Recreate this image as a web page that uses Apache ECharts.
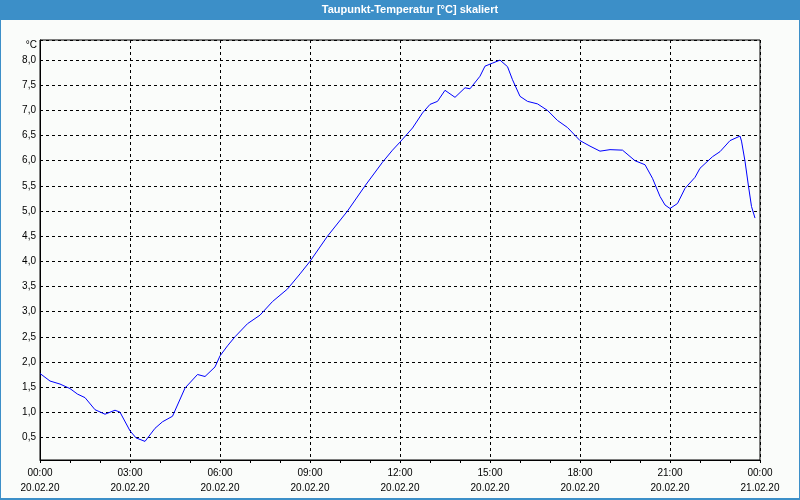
<!DOCTYPE html>
<html>
<head>
<meta charset="utf-8">
<script src="https://cdn.jsdelivr.net/npm/echarts@6/dist/echarts.min.js"></script>
<style>
html,body{margin:0;padding:0;background:#fafcfa;}
#chart{width:800px;height:500px;}
</style>
</head>
<body>
<div id="chart"></div>
<script>
// Dew point data, 20.02.20 (time of day, value in °C)
const times = [
  "00:00","00:20","00:40","01:00","01:15","01:30","01:50","02:10","02:30","02:40",
  "03:00","03:12","03:30","03:50","04:05","04:25","04:50","05:15","05:30","05:50",
  "06:00","06:15","06:30","06:55","07:20","07:45","08:15","08:40","09:00","09:35",
  "10:15","10:50","11:25","11:45","12:00","12:25","12:45","13:00","13:15","13:30",
  "13:50","14:10","14:20","14:40","14:50","15:05","15:20","15:35","15:45","16:00",
  "16:15","16:35","16:55","17:15","17:35","18:00","18:20","18:40","19:00","19:25",
  "19:50","20:10","20:25","20:40","20:50","21:00","21:15","21:30","21:50","22:00",
  "22:25","22:40","23:00","23:20","23:23","23:30","23:37","23:43","23:50"
];
const dewPoint = [
  1.77,1.62,1.56,1.47,1.36,1.29,1.05,0.96,1.04,1.00,
  0.63,0.49,0.42,0.68,0.81,0.92,1.48,1.75,1.71,1.90,
  2.12,2.32,2.50,2.76,2.93,3.20,3.45,3.75,4.00,4.50,
  5.00,5.50,5.97,6.21,6.37,6.65,6.95,7.12,7.18,7.40,
  7.26,7.45,7.43,7.68,7.88,7.94,8.00,7.87,7.61,7.28,
  7.18,7.13,7.00,6.80,6.66,6.40,6.29,6.19,6.22,6.21,
  6.00,5.92,5.65,5.29,5.12,5.05,5.15,5.45,5.67,5.85,
  6.08,6.18,6.40,6.49,6.39,5.99,5.49,5.09,4.86
];
const tickHours = ["00:00","03:00","06:00","09:00","12:00","15:00","18:00","21:00","00:00"];
const tickDates = ["20.02.20","20.02.20","20.02.20","20.02.20","20.02.20","20.02.20","20.02.20","20.02.20","21.02.20"];
const titleText = "Taupunkt-Temperatur [°C] skaliert";
const unitText = "°C";

function toHours(s){ const p = s.split(":"); return +p[0] + (+p[1])/60; }
const seriesData = times.map((t,i)=>[toHours(t), dewPoint[i]]);

const chart = echarts.init(document.getElementById('chart'), null, {renderer:'canvas'});
const fontFam = "'Liberation Sans', Arial, sans-serif";
chart.setOption({
  animation:false,
  backgroundColor:'#fafcfa',
  graphic:[
    {type:'rect', left:0, top:0, shape:{width:800,height:20}, style:{fill:'#3c8fc8'}, silent:true},
    {type:'rect', left:0, top:0, shape:{width:1,height:500}, style:{fill:'#3c8fc8'}, silent:true},
    {type:'rect', left:799, top:0, shape:{width:1,height:500}, style:{fill:'#3c8fc8'}, silent:true},
    {type:'rect', left:0, top:498, shape:{width:800,height:2}, style:{fill:'#3c8fc8'}, silent:true},
    {type:'text', x:410, y:10, style:{text:titleText, fill:'#ffffff', font:"bold 11px "+fontFam, textAlign:'center', textVerticalAlign:'middle'}, silent:true},
    {type:'text', x:37, y:45, style:{text:unitText, fill:'#000', font:"10px "+fontFam, textAlign:'right', textVerticalAlign:'middle'}, silent:true}
  ],
  grid:{left:40,right:40,top:40,bottom:40, show:true, borderColor:'#000', borderWidth:1, backgroundColor:'transparent', containLabel:false},
  xAxis:{
    type:'value', min:0, max:24, interval:3,
    axisLine:{show:true, lineStyle:{color:'#000',width:1}},
    axisTick:{show:true, length:3, lineStyle:{color:'#000'}},
    minorTick:{show:true, splitNumber:3, length:3, lineStyle:{color:'#000'}},
    splitLine:{show:true, lineStyle:{color:'#000', type:[3,3], width:1}},
    axisLabel:{
      color:'#000', fontFamily:fontFam, fontSize:10, lineHeight:15, margin:6,
      showMinLabel:true, showMaxLabel:true,
      formatter:function(v){ const i = Math.round(v/3); return tickHours[i] + "\n" + tickDates[i]; }
    }
  },
  yAxis:{
    type:'value', min:0.05, max:8.4, splitNumber:16,
    axisLine:{show:true, lineStyle:{color:'#000'}},
    axisTick:{show:false},
    splitLine:{show:true, lineStyle:{color:'#000', type:[3,3], width:1}},
    axisLabel:{
      color:'#000', fontFamily:fontFam, fontSize:10, margin:4,
      showMinLabel:false, showMaxLabel:false,
      formatter:function(v){ return v.toFixed(1).replace('.', ','); }
    }
  },
  series:[{
    type:'line', data:seriesData, showSymbol:false, symbol:'none',
    lineStyle:{color:'#0000ff', width:1}, smooth:false
  }]
});
</script>
</body>
</html>
